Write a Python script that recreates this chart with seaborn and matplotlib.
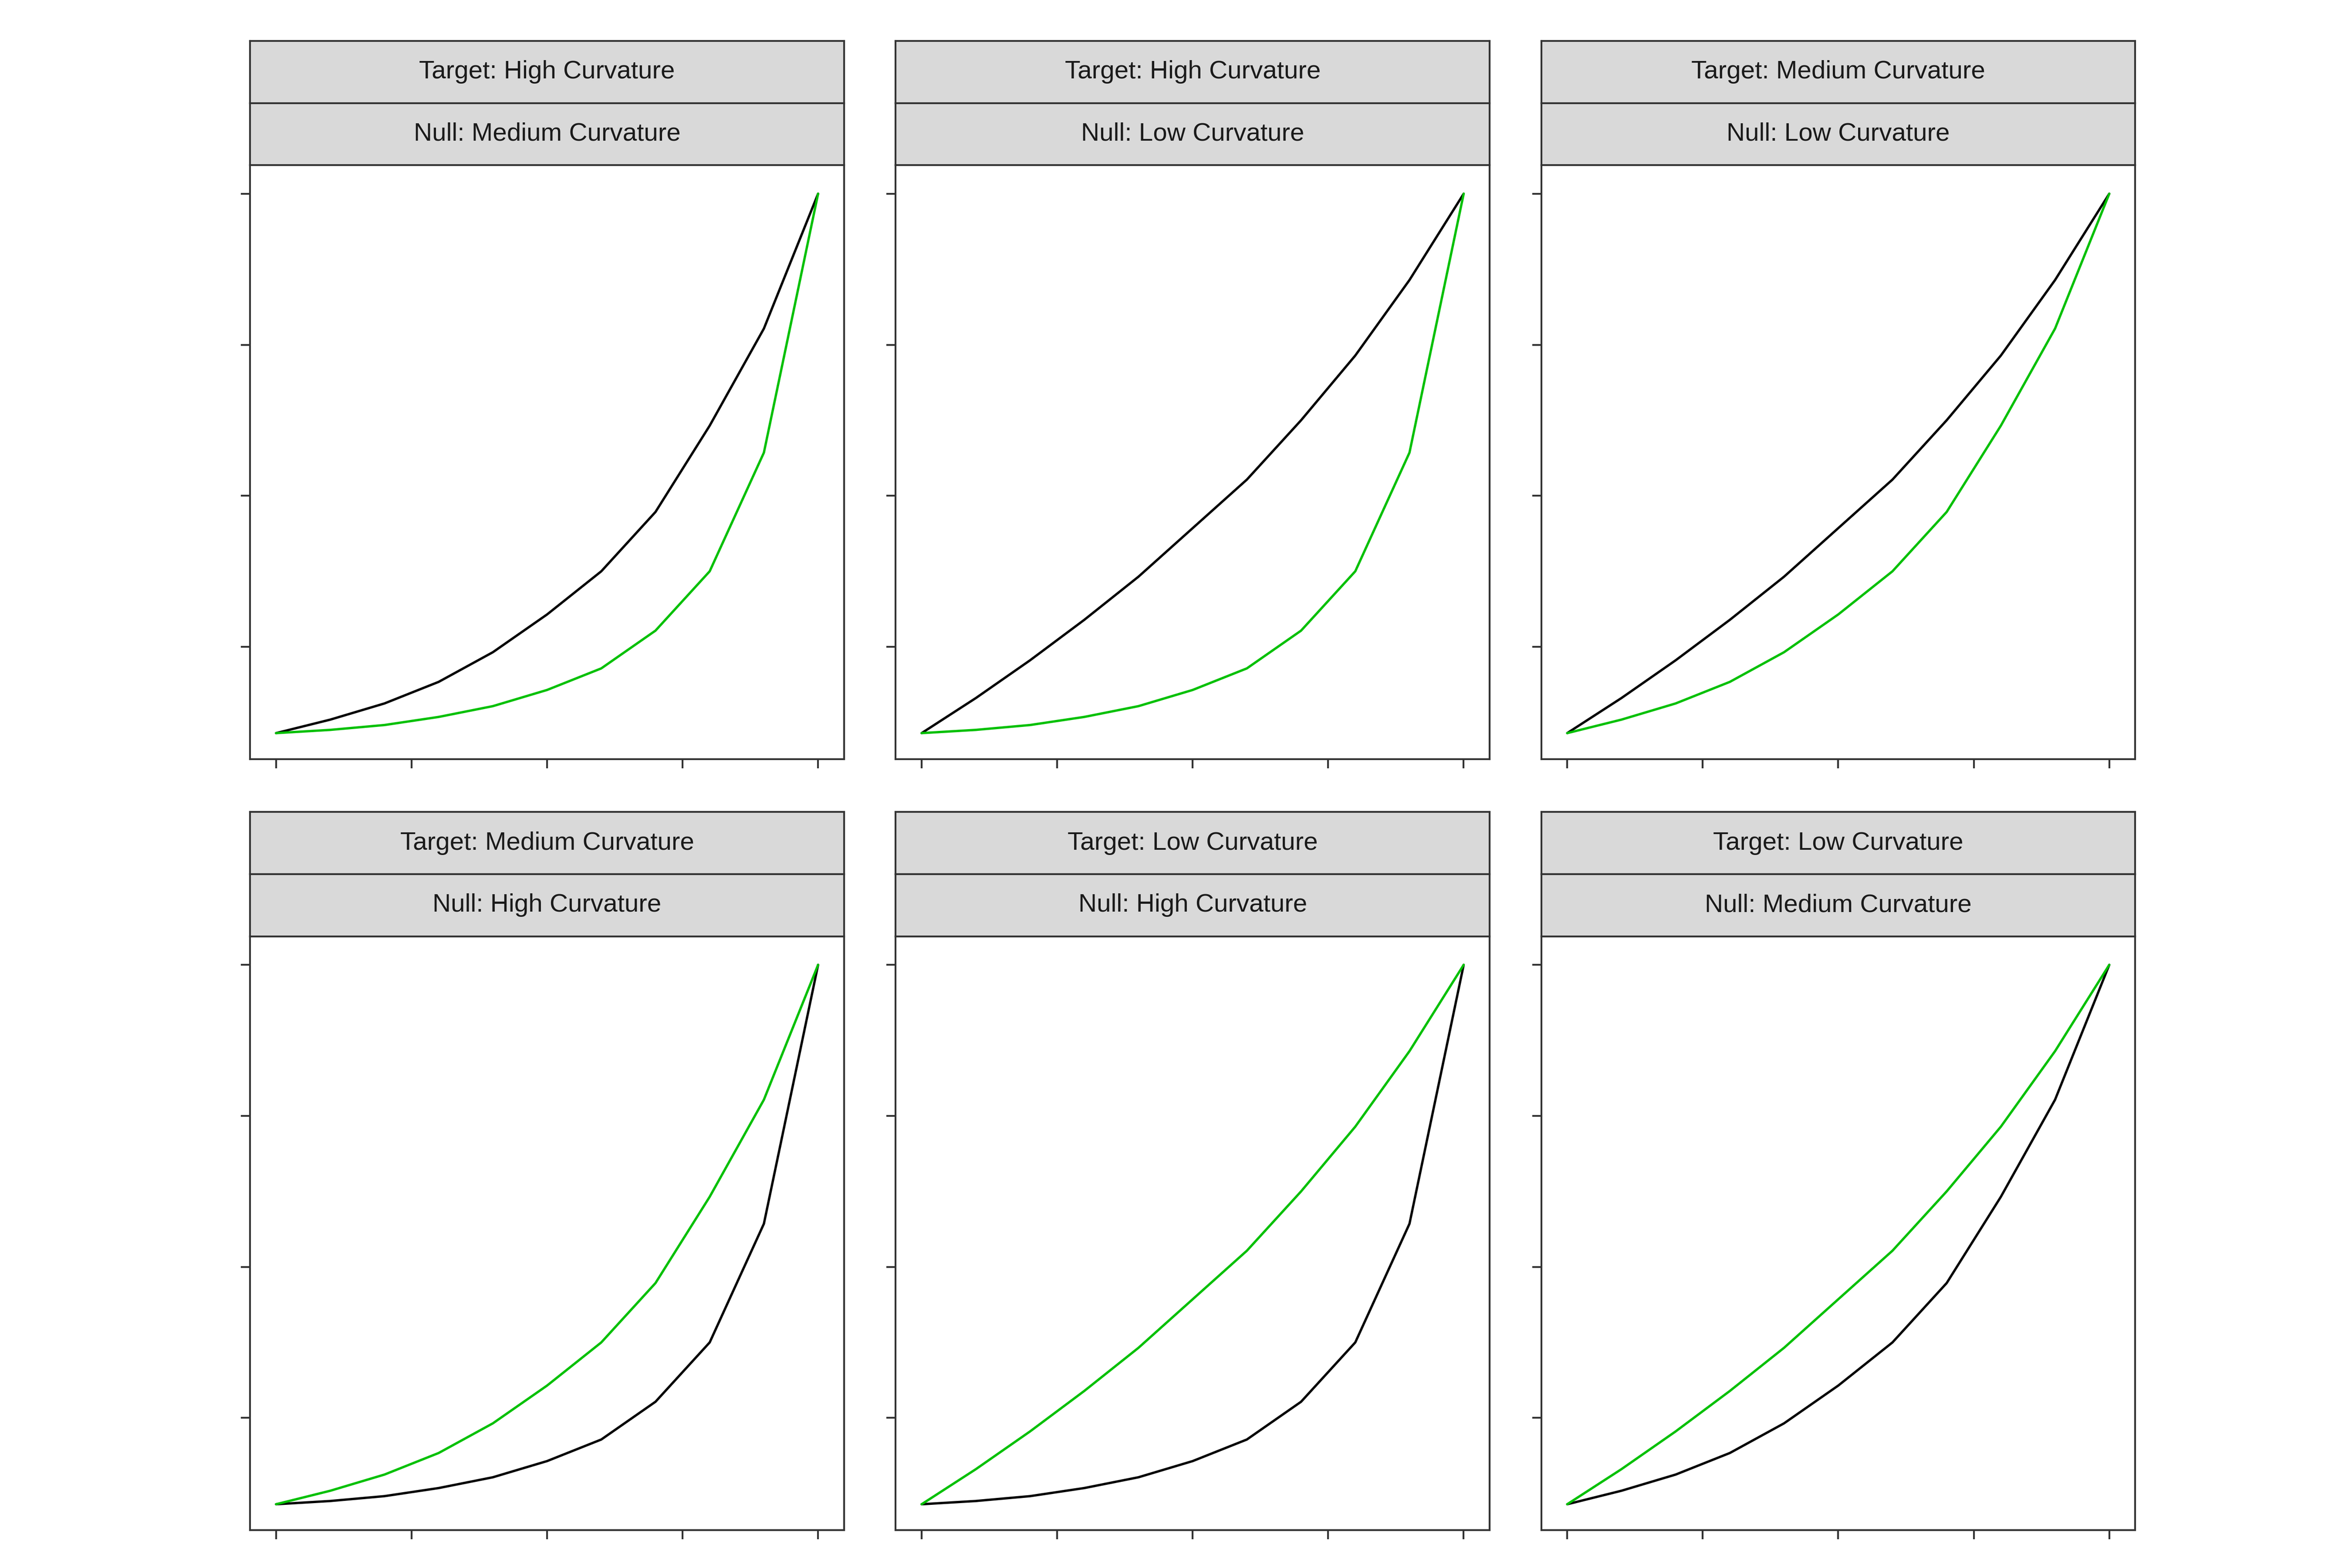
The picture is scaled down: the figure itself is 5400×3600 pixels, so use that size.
import numpy as np
import pandas as pd
import matplotlib
matplotlib.use("Agg")
import matplotlib.pyplot as plt
import seaborn as sns

# curve shapes (x from 0 to 1)
x_vals = [0.0, 0.1, 0.2, 0.3, 0.4, 0.5, 0.6, 0.7, 0.8, 0.9, 1.0]
high_curv = [0.0, 0.006, 0.015, 0.03, 0.05, 0.08, 0.12, 0.19, 0.30, 0.52, 1.0]
medium_curv = [0.0, 0.025, 0.055, 0.095, 0.15, 0.22, 0.30, 0.41, 0.57, 0.75, 1.0]
low_curv = [0.0, 0.065, 0.135, 0.21, 0.29, 0.38, 0.47, 0.58, 0.70, 0.84, 1.0]

curves = {"High": high_curv, "Medium": medium_curv, "Low": low_curv}
panels = [("High", "Medium"), ("High", "Low"), ("Medium", "Low"),
          ("Medium", "High"), ("Low", "High"), ("Low", "Medium")]

sns.set_theme(style="white")
plt.rcParams['font.family'] = ['Arial', 'Liberation Sans', 'DejaVu Sans']

fig = plt.figure(figsize=(18, 12), dpi=300)
W, H = 1552, 1035
lefts = [165, 591, 1017]
pw = 392
row_tops = [27, 536]
sh = 41

for i, (tgt, nul) in enumerate(panels):
    r, c = divmod(i, 3)
    x0 = lefts[c] / W
    top = row_tops[r]
    ax_top = top + 2 * sh
    ax = fig.add_axes([x0, 1 - (ax_top + pw) / H, pw / W, pw / H])
    df = pd.DataFrame({"x": x_vals * 2,
                       "y": curves[nul] + curves[tgt],
                       "kind": ["Null"] * 11 + ["Target"] * 11})
    sns.lineplot(data=df, x="x", y="y", hue="kind", ax=ax,
                 palette={"Null": "black", "Target": "#00c000"},
                 legend=False, linewidth=1.3)
    ax.set_xlim(-0.048, 1.048)
    ax.set_ylim(-0.048, 1.053)
    ax.set_xticks([0, 0.25, 0.5, 0.75, 1])
    ax.set_yticks([0, 0.25, 0.5, 0.75, 1][1:] if False else [0.0, 0.28, 0.56, 0.84, 1.0][:0] or [0.0])
    ax.set_yticks([0.16, 0.44, 0.72, 1.0])
    ax.set_xticklabels([])
    ax.set_yticklabels([])
    ax.set_xlabel("")
    ax.set_ylabel("")
    ax.tick_params(direction="out", length=5, width=1, color="#333333",
                   bottom=True, left=True)
    for s in ax.spines.values():
        s.set_color("#333333")
        s.set_linewidth(1)
    for k, label in enumerate([f"Target: {tgt} Curvature", f"Null: {nul} Curvature"]):
        sy = top + k * sh
        sax = fig.add_axes([x0, 1 - (sy + sh) / H, pw / W, sh / H])
        sax.set_facecolor("#d9d9d9")
        sax.set_xticks([])
        sax.set_yticks([])
        for s in sax.spines.values():
            s.set_color("#333333")
            s.set_linewidth(1)
        sax.text(0.5, 0.5, label, ha="center", va="center", fontsize=14,
                 color="#1a1a1a", transform=sax.transAxes)

fig.savefig("out.png", dpi=300)
